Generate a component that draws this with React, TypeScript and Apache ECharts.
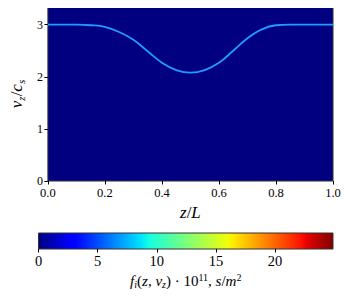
import React, { useEffect, useRef } from "react";
import * as echarts from "echarts";

// Ridge of the distribution: z/L positions and v_z/c_s values
const zValues = [0, 0.05, 0.1, 0.15, 0.2, 0.25, 0.3, 0.35, 0.4, 0.45, 0.5, 0.55, 0.6, 0.65, 0.7, 0.75, 0.8, 0.85, 0.9, 0.95, 1.0];
const vValues = [3.0, 3.0, 3.0, 2.99, 2.96, 2.86, 2.71, 2.49, 2.27, 2.13, 2.08, 2.13, 2.27, 2.5, 2.74, 2.91, 2.99, 3.0, 3.0, 3.0, 3.0];

const xTicks = [0, 0.2, 0.4, 0.6, 0.8, 1.0];
const yTicks = [0, 1, 2, 3];
const cbarTicks = [0, 5, 10, 15, 20];
const cbarMax = 24.9;
const yMax = 3.34;

// jet colormap stops
const jetStops: [number, string][] = [
  [0, "#000080"],
  [0.11, "#0000ff"],
  [0.125, "#0000ff"],
  [0.34, "#00dbff"],
  [0.35, "#00e5ff"],
  [0.375, "#14ffe2"],
  [0.64, "#eeff08"],
  [0.66, "#ffec00"],
  [0.89, "#ff1300"],
  [0.91, "#e80000"],
  [1, "#800000"],
];

const SERIF = "Liberation Serif";

export default function App() {
  const ref = useRef<HTMLDivElement>(null);
  useEffect(() => {
    if (!ref.current) return;
    const chart = echarts.init(ref.current, undefined, { renderer: "svg" });
    const italic = { fontFamily: SERIF, fontStyle: "italic" as const, fontSize: 17, color: "#000" };
    const normal = { fontFamily: SERIF, fontSize: 17, color: "#000" };
    const sub = { fontFamily: SERIF, fontStyle: "italic" as const, fontSize: 11, color: "#000", padding: [8, 0, 0, 0] };
    const cItalic = { ...italic, fontSize: 15 };
    const cNormal = { ...normal, fontSize: 15 };
    const cSub = { ...sub, fontSize: 10, padding: [7, 0, 0, 0] };
    const cSup = { fontFamily: SERIF, fontSize: 10, color: "#000", padding: [0, 0, 7, 0] };
    const ridge = zValues.map((z, i) => [z, vValues[i]]);
    chart.setOption({
      animation: false,
      textStyle: { fontFamily: SERIF },
      grid: [
        { left: 38.5, top: 7, width: 294.5, height: 174, show: true, backgroundColor: "#000080", borderColor: "#333", borderWidth: 1 },
        {
          left: 38.5, top: 233, width: 294.5, height: 16, show: true,
          backgroundColor: new echarts.graphic.LinearGradient(0, 0, 1, 0, jetStops.map(([offset, color]) => ({ offset, color }))),
          borderColor: "#333", borderWidth: 1,
        },
      ],
      xAxis: [
        {
          gridIndex: 0, type: "value", min: 0, max: 1,
          axisLine: { show: false }, splitLine: { show: false },
          axisTick: { show: true, length: 3.5, lineStyle: { color: "#000" }, customValues: xTicks },
          axisLabel: { customValues: xTicks, formatter: (v: number) => v.toFixed(1), fontFamily: SERIF, fontSize: 12.5, color: "#000", margin: 5 },
          name: "{i|z}{n|/}{i|L}", nameLocation: "middle", nameGap: 21,
          nameTextStyle: { fontFamily: SERIF, rich: { i: italic, n: normal } },
        },
        {
          gridIndex: 1, type: "value", min: 0, max: cbarMax,
          axisLine: { show: false }, splitLine: { show: false },
          axisTick: { show: true, length: 3.5, lineStyle: { color: "#000" }, customValues: cbarTicks },
          axisLabel: { customValues: cbarTicks, fontFamily: SERIF, fontSize: 14.5, color: "#000", margin: 4 },
          name: "{i|f}{s|i}{n|(}{i|z}{n|, }{i|v}{s|z}{n|) · 10}{p|11}{n|, }{i|s}{n|/}{i|m}{p|2}",
          nameLocation: "middle", nameGap: 23,
          nameTextStyle: { fontFamily: SERIF, rich: { i: cItalic, n: cNormal, s: cSub, p: cSup } },
        },
      ],
      yAxis: [
        {
          gridIndex: 0, type: "value", min: 0, max: yMax,
          axisLine: { show: false }, splitLine: { show: false },
          axisTick: { show: true, length: 3.5, lineStyle: { color: "#000" }, customValues: yTicks },
          axisLabel: { customValues: yTicks, fontFamily: SERIF, fontSize: 12, color: "#000", margin: 5 },
          name: "{i|v}{s|z}{n|/}{i|c}{s|s}", nameLocation: "middle", nameGap: 12, nameRotate: 90,
          nameTextStyle: { fontFamily: SERIF, rich: { i: italic, n: normal, s: sub } },
        },
        { gridIndex: 1, type: "value", min: 0, max: 1, show: false },
      ],
      series: [
        {
          type: "line", xAxisIndex: 0, yAxisIndex: 0, data: ridge, smooth: 0.4,
          showSymbol: false, symbol: "none",
          lineStyle: { color: "#1e9cff", width: 1.8 },
        },
      ],
    });
    return () => chart.dispose();
  }, []);
  return <div ref={ref} style={{ width: 349, height: 299, margin: -8 }} />;
}
